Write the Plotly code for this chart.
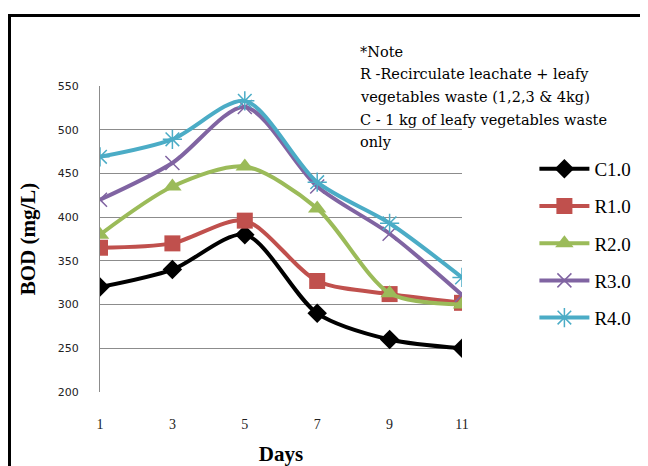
import plotly.graph_objects as go

days = [1, 3, 5, 7, 9, 11]
c1 = [320, 340, 380, 290, 260, 250]
r1 = [365, 370, 396, 327, 312, 302]
r2 = [380, 435, 458, 410, 313, 300]
r3 = [420, 462, 526, 435, 381, 311]
r4 = [469, 489, 533, 440, 393, 331]
y_ticks = [200, 250, 300, 350, 400, 450, 500, 550]
x_ticks = [1, 3, 5, 7, 9, 11]
note_lines = [
    "*Note",
    "R -Recirculate leachate + leafy",
    "vegetables waste (1,2,3 &amp; 4kg)",
    "C - 1 kg of leafy vegetables waste",
    "only",
]

series = [
    ("C1.0", c1, "#000000", "diamond", 15, 0),
    ("R1.0", r1, "#C0504D", "square", 16, 0),
    ("R2.0", r2, "#9BBB59", "triangle-up", 16, 0),
    ("R3.0", r3, "#8064A2", "x-thin-open", 14, 1.5),
    ("R4.0", r4, "#4BACC6", "asterisk-open", 16, 1.5),
]

fig = go.Figure()
for i, (name, vals, color, sym, size, lw) in enumerate(series):
    if lw:
        marker = dict(symbol=sym, size=size, color=color, line=dict(color=color, width=lw))
    else:
        marker = dict(symbol=sym, size=size, color=color, line=dict(width=0))
    fig.add_trace(go.Scatter(
        x=days, y=vals, name=name, mode="lines+markers",
        line=dict(color=color, width=4, shape="spline", smoothing=0.8),
        marker=marker, legendgroup=name,
    ))

# page is offset by 8px body margin; plot area spans page x 100..462, y 86..392
fig.update_layout(
    width=640, height=458,
    margin=dict(l=92, r=186, t=78, b=74, autoexpand=False),
    paper_bgcolor="white", plot_bgcolor="white",
    showlegend=True,
    legend=dict(x=1.2, xanchor="left", y=0.791, yanchor="top",
                font=dict(family="Liberation Serif", size=19, color="#000"),
                traceorder="grouped", tracegroupgap=9.5, itemwidth=50,
                bgcolor="rgba(0,0,0,0)"),
    xaxis=dict(range=[1, 11], tickvals=x_ticks, ticks="", showgrid=False,
               zeroline=False, showline=False, automargin=False,
               tickfont=dict(family="Liberation Serif", size=14, color="#222"),
               ticklabelstandoff=22,
               title=dict(text="<b>Days</b>", standoff=15,
                          font=dict(family="Liberation Serif", size=21, color="#000"))),
    yaxis=dict(range=[200, 550], tickvals=y_ticks, ticks="", showgrid=True,
               gridcolor="#8c8c8c", gridwidth=1, zeroline=False, automargin=False,
               showline=True, linecolor="#8c8c8c", linewidth=1,
               tickfont=dict(family="DejaVu Sans", size=11, color="#222"),
               ticklabelstandoff=18,
               title=dict(text="<b>BOD (mg/L)</b>", standoff=16,
                          font=dict(family="Liberation Serif", size=21, color="#000"))),
)

note_y = [52, 74, 97, 120, 142]
for line, py in zip(note_lines, note_y):
    fig.add_annotation(
        xref="paper", yref="paper", x=(358 - 100) / 362, y=1 + (86 - py) / 306,
        xanchor="left", yanchor="middle", align="left", showarrow=False,
        text=line,
        font=dict(family="DejaVu Serif", size=14.5, color="#000"),
    )

fig.add_shape(type="rect", xref="paper", yref="paper",
              x0=(9.5 - 100) / 362, x1=1.7, y0=-0.4, y1=1 + (86 - 15.5) / 306,
              line=dict(color="#000", width=3), layer="above")

fig.write_html("out.html")
